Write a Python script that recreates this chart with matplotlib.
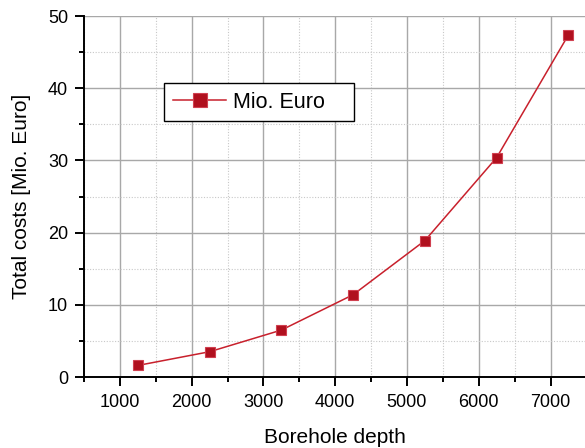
import matplotlib
matplotlib.use("Agg")
import matplotlib.pyplot as plt
from matplotlib.ticker import MultipleLocator

depth = [1250, 2250, 3250, 4250, 5250, 6250, 7250]
costs = [1.6, 3.5, 6.5, 11.4, 18.9, 30.4, 47.4]
series_label = "Mio. Euro"

plt.rcParams['font.family'] = ['Liberation Sans', 'DejaVu Sans']

fig = plt.figure(figsize=(5.85, 4.48), dpi=100)
ax = fig.add_axes([84 / 585, 71 / 448, 501 / 585, 361 / 448])

ax.plot(depth, costs, color='#c8202c', lw=1.1, marker='s', ms=7.5,
        mfc='#b0101e', mec='#d04050', mew=0.8, label=series_label, zorder=3)

ax.set_xlim(500, 7480)
ax.set_ylim(0, 50)
ax.xaxis.set_major_locator(MultipleLocator(1000))
ax.xaxis.set_minor_locator(MultipleLocator(500))
ax.yaxis.set_major_locator(MultipleLocator(10))
ax.yaxis.set_minor_locator(MultipleLocator(5))

ax.grid(which='major', color='#a8a8a8', lw=1.0, ls='-')
ax.grid(which='minor', color='#c8c8c8', lw=0.8, ls=(0, (1, 1.5)))
ax.set_axisbelow(True)

for s in ('top', 'right'):
    ax.spines[s].set_visible(False)
for s in ('left', 'bottom'):
    ax.spines[s].set_linewidth(1.4)
    ax.spines[s].set_color('black')

ax.tick_params(which='major', direction='out', length=6.5, width=1.4,
               labelsize=13, colors='black')
ax.tick_params(which='minor', direction='out', length=3.6, width=1.4)
ax.tick_params(axis='y', which='major', pad=5)
ax.tick_params(axis='x', which='major', pad=6)

ax.set_xlabel("Borehole depth", fontsize=15, labelpad=12)
ax.set_ylabel("Total costs [Mio. Euro]", fontsize=15, labelpad=12)

# legend frame spans a fixed box inside the axes
x0 = (164 - 84) / 501
y1 = (377 - 83) / 361
y0 = (377 - 120) / 361
w = (354 - 164) / 501
leg = ax.legend(loc='upper left', bbox_to_anchor=(x0, y0, w, y1 - y0), mode='expand',
                fontsize=15.5, frameon=True, fancybox=False, handlelength=2.5,
                borderpad=0.4, handletextpad=0.3, borderaxespad=0, markerscale=1.25)
leg.get_frame().set_edgecolor('black')
leg.get_frame().set_linewidth(1.0)
leg.get_frame().set_alpha(1)

fig.savefig("out.png", dpi=100)
